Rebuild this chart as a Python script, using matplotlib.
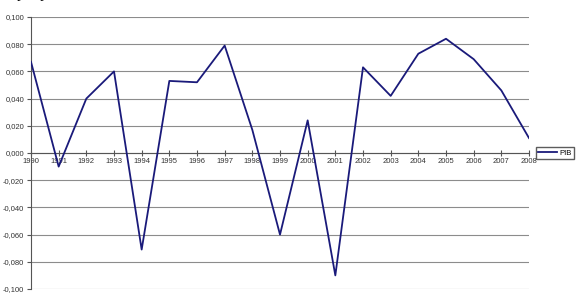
import numpy as np
import matplotlib.pyplot as plt
plt.rcParams['font.family'] = 'Liberation Sans'

years = [str(y) for y in range(1990, 2009)]
pib = [0.067, -0.010, 0.040, 0.060, -0.071, 0.053, 0.052, 0.079, 0.017, -0.060,
       0.024, -0.090, 0.063, 0.042, 0.073, 0.084, 0.069, 0.046, 0.011]
yticks = np.arange(-0.100, 0.1001, 0.020)

fig = plt.figure(figsize=(5.82, 2.95), dpi=100)
ax = fig.add_axes([31/582, 6/295, 498/582, 272/295])

# spine position first, it resets the ticks
for s in ['top', 'right']:
    ax.spines[s].set_visible(False)
ax.spines['bottom'].set_position(('data', 0))
ax.spines['bottom'].set_color('#555555')
ax.spines['left'].set_color('#555555')

x = np.arange(len(years))
ax.plot(x, pib, color='#1a1a7a', lw=1.3, label='PIB', zorder=3)

ax.set_xlim(0, len(years) - 1)
ax.set_ylim(-0.100, 0.100)
ax.set_yticks(yticks)
ax.set_yticklabels([f'{v:.3f}'.replace('.', ',') for v in yticks], fontsize=5.5, color='#333333')
ax.set_xticks(x)
ax.set_xticklabels(years, fontsize=5.5, color='#333333')
ax.yaxis.grid(True, color='#8c8c8c', lw=0.8)
ax.set_axisbelow(True)
ax.tick_params(axis='x', direction='inout', length=4, pad=1.5, color='#555555')
ax.tick_params(axis='y', direction='out', length=3, pad=2, color='#555555')

fig.legend(loc='center left', bbox_to_anchor=(532/582, (295-153)/295), fontsize=5.5,
           frameon=True, fancybox=False, edgecolor='#333333', handlelength=2.5,
           borderpad=0.3, handletextpad=0.3)

# title line cut off at the top edge, only descenders show
fig.text(0.03, 1.006, 'p    p', fontsize=11, family='Liberation Serif', va='baseline')

fig.savefig('out.png', dpi=100)
